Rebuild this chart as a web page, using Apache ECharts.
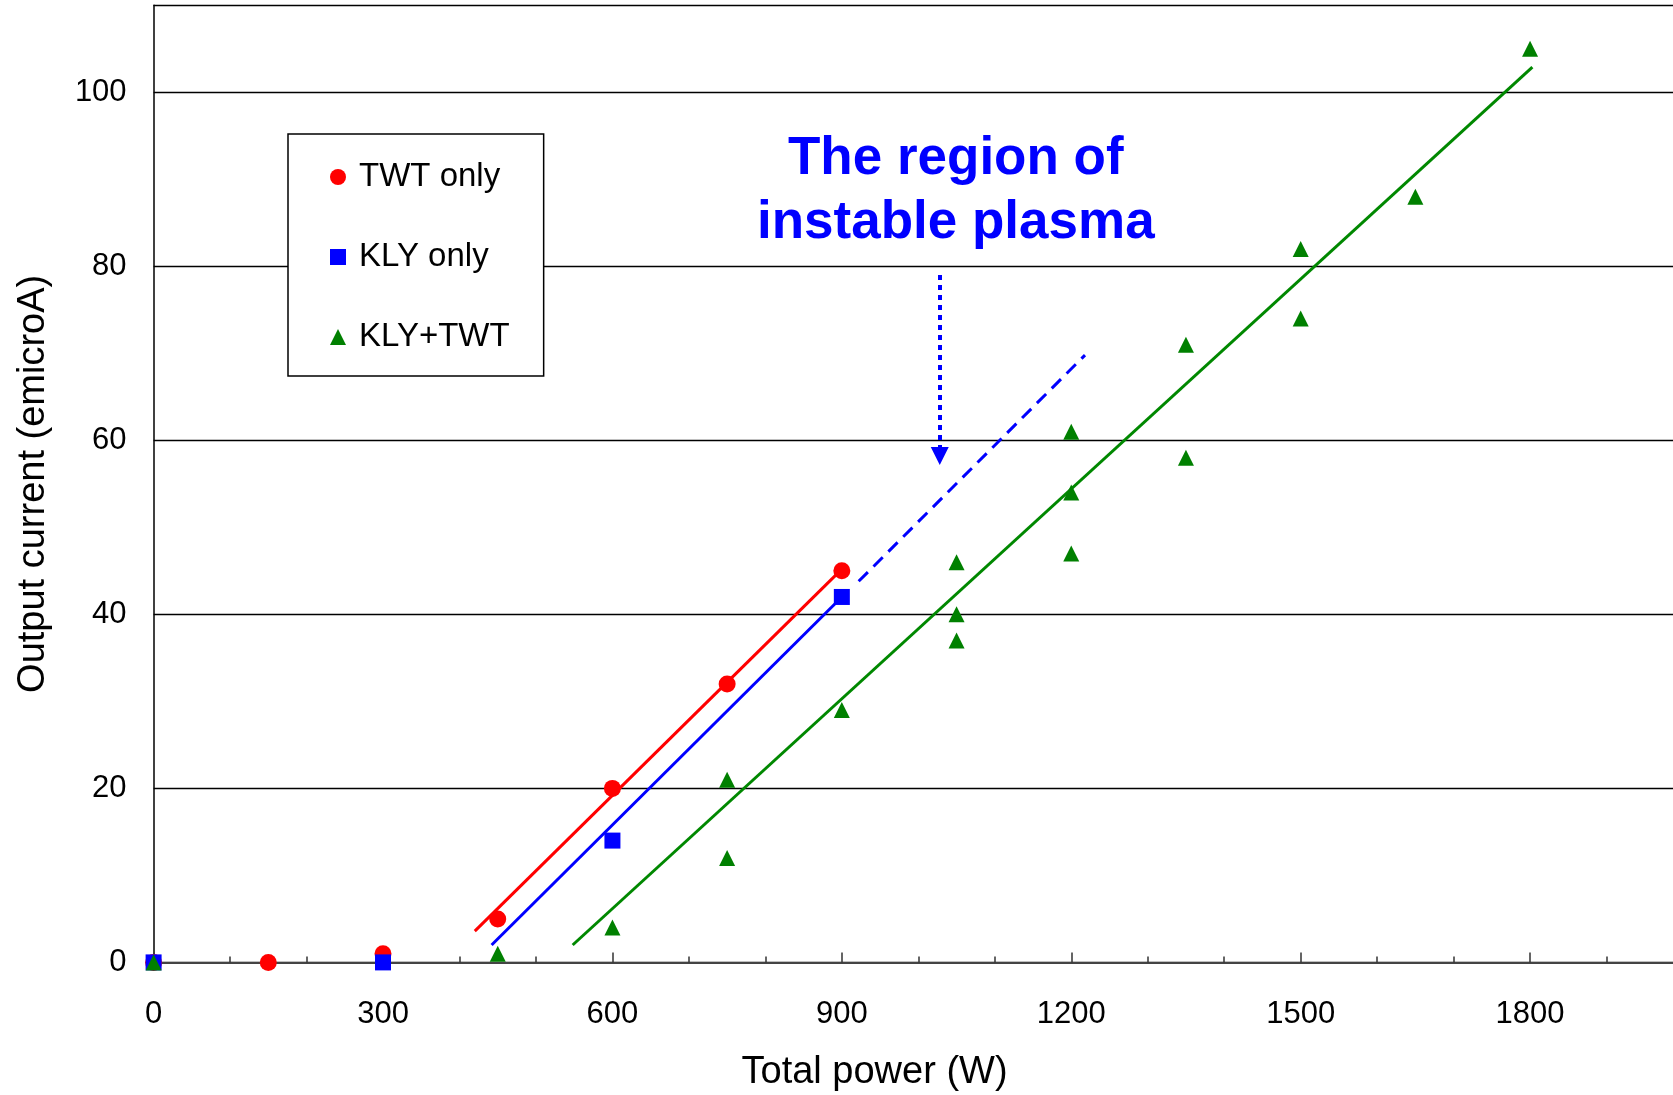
<!DOCTYPE html>
<html>
<head>
<meta charset="utf-8">
<script src="https://cdn.jsdelivr.net/npm/echarts@6/dist/echarts.min.js"></script>
<style>
  html, body { margin: 0; padding: 0; background: #fff; }
  #chart { width: 1673px; height: 1095px; }
</style>
</head>
<body>
<div id="chart"></div>
<script>
// measured points [power W, current]
const twtOnly = [[0, 0], [150, 0], [300, 1], [450, 5], [600, 20], [750, 32], [900, 45]];
const klyOnly = [[0, 0], [300, 0], [600, 14], [900, 42]];
const klyTwt = [
  [0, 0], [450, 1], [600, 4], [750, 21], [750, 12], [900, 29],
  [1050, 46], [1050, 40], [1050, 37], [1200, 61], [1200, 54], [1200, 47],
  [1350, 71], [1350, 58], [1500, 82], [1500, 74], [1650, 88], [1800, 105]
];

// fitted lines (end points)
const twtFit = [[420, 3.6], [900, 45.2]];
const klyFit = [[442, 2.0], [900, 42.0]];
const klyExt = [[922, 43.8], [1218, 69.8]];
const klyTwtFit = [[548, 2.0], [1803, 102.9]];

// annotation
const noteText = ['The region of', 'instable plasma'];
const notePos = [1049, 88.6];
const arrowLine = [[1028, 79], [1028, 58.2]];

const legendNames = ['TWT only', 'KLY only', 'KLY+TWT'];

const font = 'Arial, "Liberation Sans", sans-serif';
const chart = echarts.init(document.getElementById('chart'));

const fitLine = (data, color, type) => ({
  type: 'line',
  data: data,
  showSymbol: false,
  symbol: 'none',
  silent: true,
  z: 2,
  lineStyle: { color: color, width: 3, type: type || 'solid' }
});

const options = {
  animation: false,
  backgroundColor: '#fff',
  textStyle: { fontFamily: font },
  grid: {
    left: 153.6,
    top: 5.3,
    right: -86.5,
    bottom: 132.6,
    containLabel: false,
    outerBoundsMode: 'none'
  },
  legend: {
    data: legendNames,
    orient: 'vertical',
    left: 288,
    top: 134,
    padding: [26, 34, 22, 42],
    itemWidth: 16,
    itemHeight: 16,
    itemGap: 46,
    borderColor: '#000',
    borderWidth: 1.5,
    backgroundColor: '#fff',
    textStyle: { fontSize: 33, color: '#000', fontFamily: font, lineHeight: 34, padding: [0, 0, 0, 8] }
  },
  xAxis: {
    type: 'value',
    min: 0,
    max: 2100,
    interval: 300,
    name: 'Total power (W)',
    nameLocation: 'middle',
    nameGap: 91,
    nameTextStyle: { fontSize: 38, color: '#000', fontFamily: font, padding: [0, 164, 0, 0] },
    axisLine: { show: true, lineStyle: { color: '#444', width: 2 } },
    axisTick: { show: true, inside: true, length: 10, lineStyle: { color: '#333', width: 1.5 } },
    minorTick: { show: true, splitNumber: 3, length: 6, lineStyle: { color: '#333', width: 1.5 } },
    axisLabel: {
      fontSize: 31, color: '#000', margin: 37, showMaxLabel: false, fontFamily: font,
      formatter: v => String(v)
    },
    splitLine: { show: false }
  },
  yAxis: {
    type: 'value',
    min: 0,
    max: 110,
    interval: 20,
    name: 'Output current (emicroA)',
    nameLocation: 'middle',
    nameRotate: 90,
    nameGap: 101,
    nameTextStyle: { fontSize: 38, color: '#000', fontFamily: font },
    axisLine: { show: true, lineStyle: { color: '#000', width: 1.5 } },
    axisTick: { show: false },
    axisLabel: { fontSize: 31, color: '#000', margin: 27, showMaxLabel: false, fontFamily: font },
    splitLine: { show: true, lineStyle: { color: '#000', width: 1.3 } }
  },
  series: [
    fitLine(twtFit, '#ff0000'),
    fitLine(klyFit, '#0000ff'),
    fitLine(klyExt, '#0000ff', [13, 8]),
    fitLine(klyTwtFit, '#008800'),
    {
      name: 'TWT only',
      type: 'scatter',
      data: twtOnly,
      symbol: 'circle',
      symbolSize: 17,
      z: 3,
      itemStyle: { color: '#ff0000', opacity: 1 }
    },
    {
      name: 'KLY only',
      type: 'scatter',
      data: klyOnly,
      symbol: 'rect',
      symbolSize: 16,
      z: 3,
      itemStyle: { color: '#0000ff', opacity: 1 }
    },
    {
      name: 'KLY+TWT',
      type: 'scatter',
      data: klyTwt,
      symbol: 'triangle',
      symbolSize: 16,
      z: 3,
      itemStyle: { color: '#008000', opacity: 1 }
    },
    {
      type: 'scatter',
      data: [notePos],
      symbolSize: 1,
      silent: true,
      z: 4,
      itemStyle: { color: 'rgba(0,0,0,0)', opacity: 1 },
      label: {
        show: true,
        position: 'inside',
        formatter: noteText.join('\n'),
        fontSize: 53,
        fontWeight: 'bold',
        lineHeight: 64,
        color: '#0000ff',
        opacity: 1,
        fontFamily: font
      },
      markLine: {
        silent: true,
        symbol: ['none', 'triangle'],
        symbolSize: 18,
        label: { show: false },
        lineStyle: { color: '#0000ff', width: 4, type: [5, 5], opacity: 1 },
        data: [[{ coord: arrowLine[0] }, { coord: arrowLine[1] }]]
      }
    }
  ]
};

chart.setOption(options);
</script>
</body>
</html>
